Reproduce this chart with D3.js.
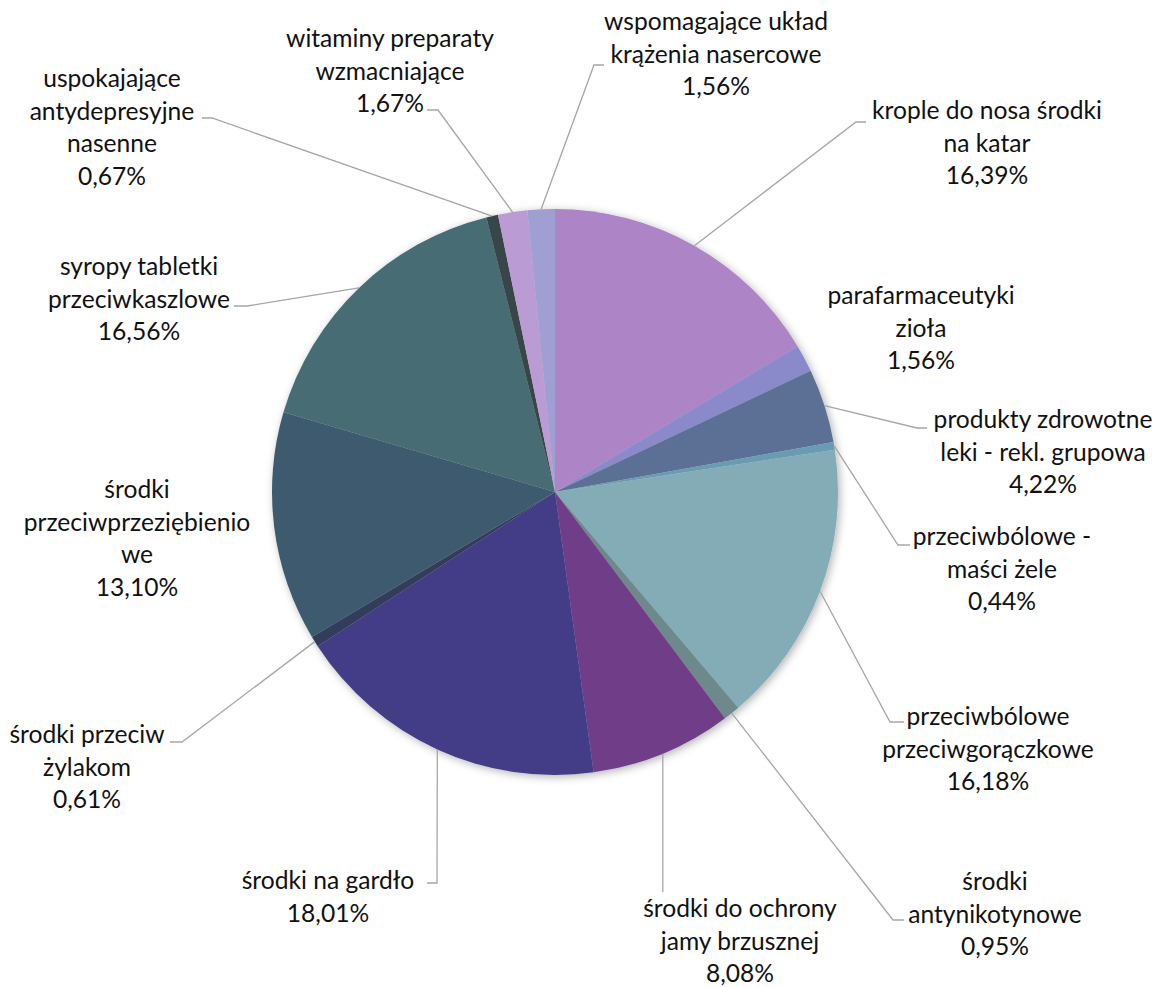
<!DOCTYPE html>
<html><head><meta charset="utf-8">
<script src="https://cdn.jsdelivr.net/npm/d3@7"></script>
<style>body{margin:0;background:#fff}</style>
</head><body>
<svg id="c" width="1158" height="987"></svg>
<script>
// ---- data ----
const categories = [
  "krople do nosa środki\nna katar",
  "parafarmaceutyki\nzioła",
  "produkty zdrowotne\nleki - rekl. grupowa",
  "przeciwbólowe -\nmaści żele",
  "przeciwbólowe\nprzeciwgorączkowe",
  "środki\nantynikotynowe",
  "środki do ochrony\njamy brzusznej",
  "środki na gardło",
  "środki przeciw\nżylakom",
  "środki\nprzeciwprzeziębienio\nwe",
  "syropy tabletki\nprzeciwkaszlowe",
  "uspokajające\nantydepresyjne\nnasenne",
  "witaminy preparaty\nwzmacniające",
  "wspomagające układ\nkrążenia nasercowe"
];
const values = [16.39, 1.56, 4.22, 0.44, 16.18, 0.95, 8.08, 18.01, 0.61, 13.10, 16.56, 0.67, 1.67, 1.56];
const colors = ["#AD84C6", "#8A89CA", "#5C7096", "#6A9BB0", "#84ACB6", "#6E898B", "#6F3E89", "#433C86",
                "#333D5C", "#3C5A6E", "#466C73", "#384448", "#BB9BD4", "#A09FD3"];

// ---- layout (label centre x, first line centre y, leader elbow & end) ----
const labelLayout = [
  {x: 987, y: 112, elbow: [856, 122], end: [866, 122]},
  {x: 921, y: 297, elbow: null},
  {x: 1043, y: 421, elbow: [917, 428], end: [927, 428]},
  {x: 1002, y: 538, elbow: [898, 545], end: [910, 545]},
  {x: 988, y: 718, elbow: [890, 722], end: [904, 722]},
  {x: 995, y: 883, elbow: [893, 920], end: [904, 920]},
  {x: 740, y: 910, elbow: null, vertEnd: 892},
  {x: 328, y: 882, elbow: [437, 883], end: [427, 883]},
  {x: 87, y: 736, elbow: [182, 742], end: [170, 742]},
  {x: 137, y: 491, elbow: null},
  {x: 139, y: 268, elbow: [247, 306], end: [234, 306]},
  {x: 112, y: 80, elbow: [212, 118], end: [202, 118]},
  {x: 390, y: 40, elbow: [438, 110], end: [427, 110]},
  {x: 716, y: 23, elbow: [594, 65], end: [604, 65]}
];

const cx = 555, cy = 492, R = 283;
const fontFamily = "Lato, 'Open Sans', sans-serif";
const lineH = 32.5;

const svg = d3.select("#c");
const defs = svg.append("defs");
const f = defs.append("filter").attr("id", "sh").attr("x", "-10%").attr("y", "-10%").attr("width", "120%").attr("height", "120%");
f.append("feDropShadow").attr("dx", 2).attr("dy", 2).attr("stdDeviation", 4).attr("flood-color", "#000").attr("flood-opacity", 0.3);

const pie = d3.pie().sort(null).value(d => d)(values);
const arc = d3.arc().innerRadius(0).outerRadius(R);

const g = svg.append("g").attr("transform", `translate(${cx},${cy})`);
g.append("g").attr("filter", "url(#sh)")
  .selectAll("path").data(pie).join("path")
  .attr("d", arc).attr("fill", (d, i) => colors[i]);

// measure font size to match reference width
const probe = svg.append("text").attr("font-family", fontFamily).attr("font-size", 100).text("krople do nosa środki");
const w100 = probe.node().getComputedTextLength();
probe.remove();
const fs = 100 * 230 / w100;

const fmt = v => v.toFixed(2).replace(".", ",") + "%";

// leaders
const lines = svg.append("g").attr("fill", "none").attr("stroke", "#A6A6A6").attr("stroke-width", 1.3);
pie.forEach((d, i) => {
  const L = labelLayout[i];
  const a = (d.startAngle + d.endAngle) / 2;
  const p0 = [cx + R * Math.sin(a), cy - R * Math.cos(a)];
  if (L.elbow) {
    lines.append("polyline").attr("points", [p0, L.elbow, L.end].map(p => p.join(",")).join(" "));
  } else if (L.vertEnd) {
    lines.append("polyline").attr("points", [p0, [p0[0], L.vertEnd]].map(p => p.join(",")).join(" "));
  }
});

// labels
const tg = svg.append("g").attr("font-family", fontFamily).attr("font-size", fs).attr("fill", "#111").attr("text-anchor", "middle");
pie.forEach((d, i) => {
  const L = labelLayout[i];
  const ls = categories[i].split("\n").concat([fmt(values[i])]);
  const t = tg.append("text");
  ls.forEach((s, k) => {
    t.append("tspan").attr("x", L.x).attr("y", L.y + k * lineH + fs * 0.3).text(s);
  });
});
</script>
</body></html>
